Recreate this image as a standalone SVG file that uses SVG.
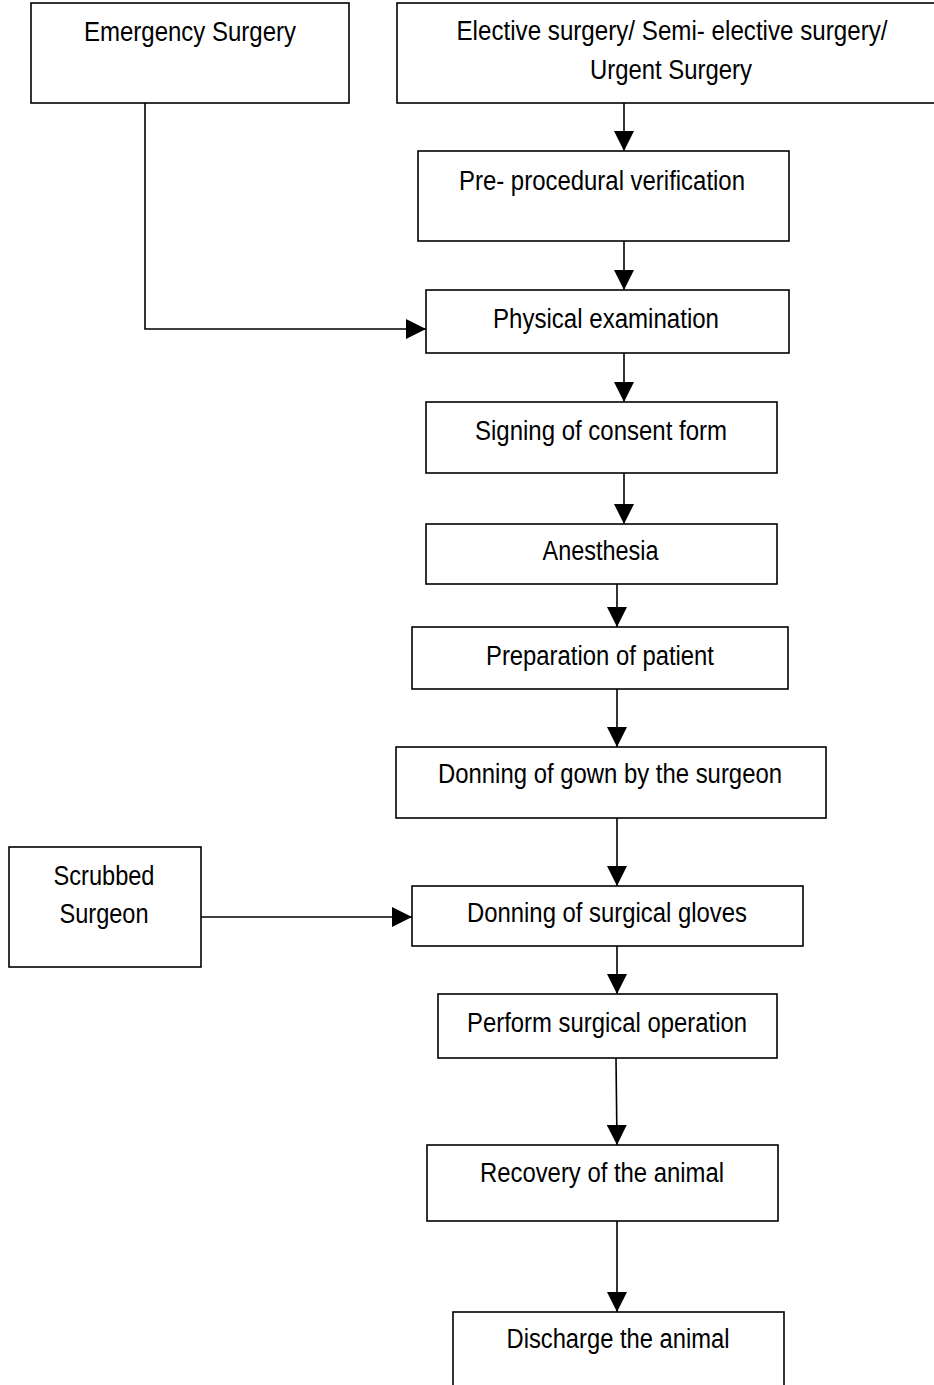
<svg xmlns="http://www.w3.org/2000/svg" width="934" height="1385" viewBox="0 0 934 1385">
<style>
.box{fill:#fff;stroke:#000;stroke-width:1.6}
.t{font-family:"Liberation Sans",Arial,sans-serif;font-size:27px;fill:#000;text-anchor:middle}
.c{fill:none;stroke:#000;stroke-width:1.6}
</style>
<defs>
<marker id="ah" markerUnits="userSpaceOnUse" markerWidth="20" markerHeight="20" refX="20" refY="10" orient="auto">
<path d="M0,0 L20,10 L0,20 z" fill="#000"/>
</marker>
</defs>
<rect width="934" height="1385" fill="#fff"/>
<g id="connectors">
<path class="c" d="M624,103 V151" marker-end="url(#ah)"/>
<path class="c" d="M624,241 V290" marker-end="url(#ah)"/>
<path class="c" d="M145,103 V329 H426" marker-end="url(#ah)"/>
<path class="c" d="M624,353 V402" marker-end="url(#ah)"/>
<path class="c" d="M624,473 V524" marker-end="url(#ah)"/>
<path class="c" d="M617,584 V627" marker-end="url(#ah)"/>
<path class="c" d="M617,689 V747" marker-end="url(#ah)"/>
<path class="c" d="M617,818 V886" marker-end="url(#ah)"/>
<path class="c" d="M201,917 H412" marker-end="url(#ah)"/>
<path class="c" d="M617,946 V994" marker-end="url(#ah)"/>
<path class="c" d="M616,1058 L617,1145" marker-end="url(#ah)"/>
<path class="c" d="M617,1221 V1312" marker-end="url(#ah)"/>
</g>
<g id="emergency">
<rect class="box" x="31" y="3" width="318" height="100"/>
<text class="t" x="190" y="41" textLength="212" lengthAdjust="spacingAndGlyphs">Emergency Surgery</text>
</g>
<g id="elective">
<rect class="box" x="397" y="3" width="545" height="100"/>
<text class="t" x="672" y="40" textLength="431" lengthAdjust="spacingAndGlyphs">Elective surgery/ Semi- elective surgery/</text>
<text class="t" x="671" y="79" textLength="162" lengthAdjust="spacingAndGlyphs">Urgent Surgery</text>
</g>
<g id="preprocedural">
<rect class="box" x="418" y="151" width="371" height="90"/>
<text class="t" x="602" y="190" textLength="286" lengthAdjust="spacingAndGlyphs">Pre- procedural verification</text>
</g>
<g id="physical">
<rect class="box" x="426" y="290" width="363" height="63"/>
<text class="t" x="606" y="328" textLength="226" lengthAdjust="spacingAndGlyphs">Physical examination</text>
</g>
<g id="consent">
<rect class="box" x="426" y="402" width="351" height="71"/>
<text class="t" x="601" y="440" textLength="252" lengthAdjust="spacingAndGlyphs">Signing of consent form</text>
</g>
<g id="anesthesia">
<rect class="box" x="426" y="524" width="351" height="60"/>
<text class="t" x="600.5" y="560" textLength="116" lengthAdjust="spacingAndGlyphs">Anesthesia</text>
</g>
<g id="preparation">
<rect class="box" x="412" y="627" width="376" height="62"/>
<text class="t" x="600" y="665" textLength="228" lengthAdjust="spacingAndGlyphs">Preparation of patient</text>
</g>
<g id="gown">
<rect class="box" x="396" y="747" width="430" height="71"/>
<text class="t" x="610" y="783" textLength="344" lengthAdjust="spacingAndGlyphs">Donning of gown by the surgeon</text>
</g>
<g id="scrubbed">
<rect class="box" x="9" y="847" width="192" height="120"/>
<text class="t" x="104" y="885" textLength="101" lengthAdjust="spacingAndGlyphs">Scrubbed</text>
<text class="t" x="104" y="923" textLength="89" lengthAdjust="spacingAndGlyphs">Surgeon</text>
</g>
<g id="gloves">
<rect class="box" x="412" y="886" width="391" height="60"/>
<text class="t" x="607" y="922" textLength="280" lengthAdjust="spacingAndGlyphs">Donning of surgical gloves</text>
</g>
<g id="perform">
<rect class="box" x="438" y="994" width="339" height="64"/>
<text class="t" x="607" y="1032" textLength="280" lengthAdjust="spacingAndGlyphs">Perform surgical operation</text>
</g>
<g id="recovery">
<rect class="box" x="427" y="1145" width="351" height="76"/>
<text class="t" x="602" y="1182" textLength="244" lengthAdjust="spacingAndGlyphs">Recovery of the animal</text>
</g>
<g id="discharge">
<rect class="box" x="453" y="1312" width="331" height="90"/>
<text class="t" x="618" y="1348" textLength="223" lengthAdjust="spacingAndGlyphs">Discharge the animal</text>
</g>
</svg>
